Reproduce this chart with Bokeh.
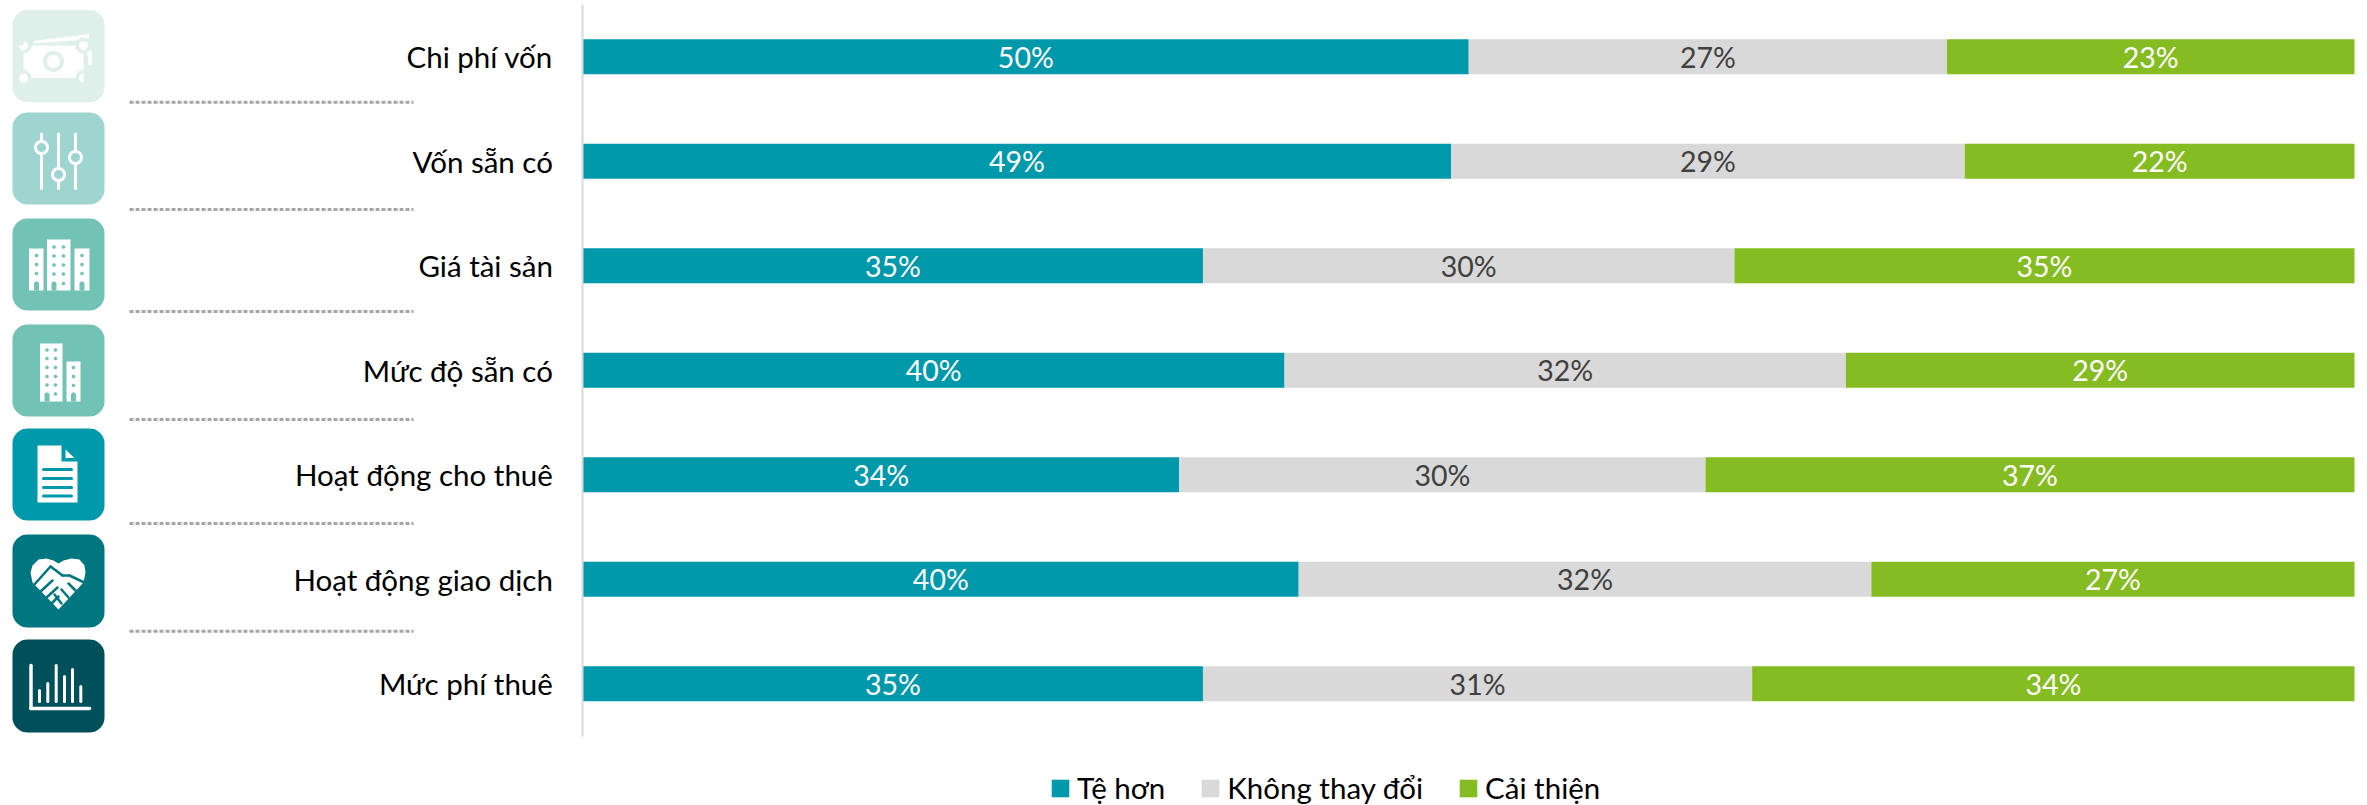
import numpy as np
from bokeh.core.properties import value
from bokeh.embed import file_html
from bokeh.models import ColumnDataSource, FixedTicker, Legend, LegendItem, Range1d
from bokeh.plotting import figure
from bokeh.resources import INLINE

# Survey results: share of respondents per factor, top row first
categories = ["Chi phí vốn", "Vốn sẵn có", "Giá tài sản", "Mức độ sẵn có",
              "Hoạt động cho thuê", "Hoạt động giao dịch", "Mức phí thuê"]
worse = [50, 49, 35, 40, 34, 40, 35]
unchanged = [27, 29, 30, 32, 30, 32, 31]
improved = [23, 22, 35, 29, 37, 27, 34]
series_names = ["Tệ hơn", "Không thay đổi", "Cải thiện"]

TEAL, GREY, GREEN = "#0099AC", "#D9D9D9", "#85BC22"
FONT = "Lato"
W, H = 2367, 805
FRAME_TOP = 4
ROW_PX = 104.5
ZERO_PX, FULL_PX = 582.4, 2354.0
PX_PER_PCT = (FULL_PX - ZERO_PX) / 100

n_rows = len(categories)
rows = np.arange(n_rows) + 0.5

p = figure(width=W, height=H, output_backend="svg", toolbar_location=None,
           x_range=Range1d(-ZERO_PX / PX_PER_PCT, (W - ZERO_PX) / PX_PER_PCT),
           y_range=Range1d((H - FRAME_TOP) / ROW_PX, 0),
           min_border_left=0, min_border_right=0, min_border_top=FRAME_TOP, min_border_bottom=0,
           outline_line_color=None, background_fill_color="white")
p.extra_x_ranges = {"px": Range1d(0, W)}
p.extra_y_ranges = {"px": Range1d(H, FRAME_TOP)}
p.grid.visible = False
p.xaxis.visible = False

# Category labels hang off the zero line of the stacked bars
yax = p.yaxis[0]
yax.fixed_location = 0
yax.bounds = (0, n_rows)
yax.ticker = FixedTicker(ticks=list(rows))
yax.major_label_overrides = {float(r): c for r, c in zip(rows, categories)}
yax.axis_line_color = "#D9D9D9"
yax.axis_line_width = 2
yax.major_tick_line_color = None
yax.minor_tick_line_color = None
yax.major_tick_out = 0
yax.major_label_standoff = 30
yax.major_label_text_font = FONT
yax.major_label_text_font_size = "29.5px"
yax.major_label_text_color = "#000000"

# Rows are 100% stacked, so each share is taken against its row total
totals = np.array(worse) + np.array(unchanged) + np.array(improved)
shares = {name: 100 * np.array(vals) / totals
          for name, vals in zip(series_names, (worse, unchanged, improved))}
source = ColumnDataSource(dict(y=rows, **shares))
bars = p.hbar_stack(series_names, y="y", height=0.335, source=source,
                    color=[TEAL, GREY, GREEN], line_color=None)

# Value labels centred in each segment
left = np.zeros(n_rows)
for name, vals, colour in zip(series_names, (worse, unchanged, improved),
                              ("white", "#404040", "white")):
    centre = left + shares[name] / 2
    left = left + shares[name]
    p.text(x=centre, y=rows, text=[f"{v}%" for v in vals],
           text_align="center", text_baseline="middle", text_color=colour,
           text_font=value(FONT), text_font_size="28.5px")

# Legend under the bars; bokeh insets area swatches by a tenth on each side
legend = Legend(items=[LegendItem(label=n, renderers=[r]) for n, r in zip(series_names, bars)],
                orientation="horizontal", location=(1049, 0), border_line_color=None,
                background_fill_alpha=0, glyph_width=22, glyph_height=22,
                label_standoff=6, spacing=34, padding=4, margin=0,
                label_text_font=FONT, label_text_font_size="29.5px", label_text_color="#000000")
p.add_layout(legend, "center")


def rounded(x0, y0, x1, y1, r=15):
    """Outline of a rounded square, in page pixels."""
    t = np.linspace(0, np.pi / 2, 12)
    xs = np.r_[x1 - r + r * np.sin(t), x1 - r + r * np.cos(t), x0 + r - r * np.sin(t), x0 + r - r * np.cos(t)]
    ys = np.r_[y0 + r - r * np.cos(t), y1 - r + r * np.sin(t), y1 - r + r * np.cos(t), y0 + r - r * np.sin(t)]
    return xs, ys


PX = dict(x_range_name="px", y_range_name="px")


def poly(xs, ys, color):
    p.patch(list(xs), list(ys), fill_color=color, line_color=None, **PX)


def seg(x0, y0, x1, y1, color, w=3):
    p.line([x0, x1], [y0, y1], line_color=color, line_width=w, line_cap="round", **PX)


def dot(x, y, r, color):
    t = np.linspace(0, 2 * np.pi, 30)
    poly(x + r * np.cos(t), y + r * np.sin(t), color)


def door(x, bottom, color):
    poly([x - 2.5, x - 2.5, x - 1.2, x + 1.2, x + 2.5, x + 2.5],
         [bottom, bottom - 7, bottom - 9, bottom - 9, bottom - 7, bottom], color)


icon_boxes = [(9.5, 101.7, "#DFEFEA"), (112, 204, "#9FD5D0"), (218, 310, "#72C3B5"),
              (324, 416, "#72C3B5"), (428, 520, "#0099AC"), (534, 627, "#007680"),
              (639, 732, "#00505C")]
for top, bottom, colour in icon_boxes:
    poly(*rounded(12, top, 104, bottom), colour)

# Banknotes
bg = icon_boxes[0][2]
poly([33, 85, 89, 88, 33], [40.5, 34, 33.5, 39, 43], "white")
poly([86, 90, 92, 88], [43, 43, 64, 65], "white")
poly([23, 83, 83, 23], [45, 45, 77.5, 77.5], "white")
for cx, cy in ((23, 45), (83, 45), (23, 77.5), (83, 77.5)):
    dot(cx, cy, 8, bg)
    dot(cx, cy, 4.5, "white")
dot(53, 61, 10.5, bg)
dot(53, 61, 6.5, "white")
poly([15, 23, 23, 15], [36, 36, 45, 45], bg)
poly([83, 91, 91, 83], [70, 70, 85, 85], bg)

# Sliders
bg = icon_boxes[1][2]
for x, knob in ((41, 147), (58, 174), (75, 157)):
    seg(x, 133.5, x, 188, "white", 3)
    dot(x, knob, 7.5, "white")
    dot(x, knob, 4.5, bg)

# City blocks
bg = icon_boxes[2][2]
for x0, x1, y0 in ((28.5, 43, 248), (46.5, 70, 239), (74, 89, 248)):
    poly([x0, x1, x1, x0], [y0, y0, 290, 290], "white")
for x in (36, 81.5):
    for y in (255, 264, 273):
        dot(x, y, 1.8, bg)
    door(x, 290, bg)
for x in (53.5, 63):
    for y in (246.5, 255.5, 264.5, 273.5):
        dot(x, y, 1.8, bg)
dot(63, 283, 1.8, bg)
door(53.5, 290, bg)

# Towers
bg = icon_boxes[3][2]
for x0, x1, y0 in ((39.5, 62, 343), (66, 80, 361)):
    poly([x0, x1, x1, x0], [y0, y0, 401, 401], "white")
for x in (46.5, 55):
    for y in (349.5, 358, 367, 376, 384.5):
        dot(x, y, 1.8, bg)
dot(55, 393.5, 1.8, bg)
for y in (367, 376, 385):
    dot(73, y, 1.8, bg)
door(46.5, 401, bg)
door(73, 401, bg)

# Document
bg = icon_boxes[4][2]
poly([37, 61, 61, 77, 77, 37], [445, 445, 461, 461, 502, 502], "white")
poly([65, 74, 65], [449, 457.5, 457.5], "white")
for y in (469, 478, 487, 495.5):
    seg(43, y, 71, y, bg, 3)

# Handshake inside a heart
bg = icon_boxes[5][2]
poly([30, 32, 38, 46, 53, 58, 63, 71, 79, 84, 85, 83, 58, 32],
     [572, 565, 559, 558, 560, 563, 560, 558, 559, 565, 572, 582, 609, 582], "white")
seg(33, 585, 50, 566, bg, 2.5)
seg(50, 566, 62, 575, bg, 2.5)
seg(62, 575, 69, 575, bg, 2.5)
seg(69, 575, 88, 584, bg, 2.5)
seg(40, 591, 52, 580, bg, 2.5)
seg(46, 597, 57, 587, bg, 2.5)
seg(51, 603, 58, 596, bg, 2.5)
seg(68, 583, 75, 590, bg, 2.5)
seg(61, 589, 68, 597, bg, 2.5)
seg(54, 594, 61, 603, bg, 2.5)

# Bar chart
seg(30.5, 665, 30.5, 708, "white", 3.5)
seg(30.5, 708, 89, 708, "white", 3.5)
for x, top in zip((39, 47.3, 55.7, 64, 72, 80.3), (690, 683, 665, 676, 669, 686)):
    seg(x, top, x, 701, "white", 3)

# Dotted separators between the rows
for y in (101.7, 209, 311, 419, 523, 630.7):
    p.line([129, 413], [y, y], line_color="#A6A6A6", line_width=3, line_dash="4 2", **PX)

open("out.html", "w").write(file_html(p, INLINE))
